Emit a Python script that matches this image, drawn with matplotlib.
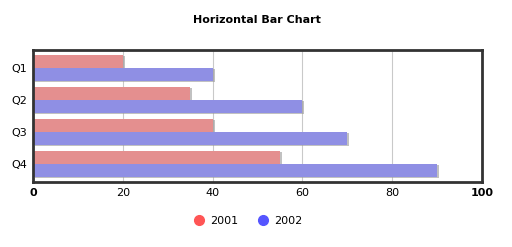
import numpy as np
import matplotlib
matplotlib.use("Agg")
import matplotlib.pyplot as plt
import matplotlib.ticker as ticker
from matplotlib.lines import Line2D
import matplotlib.patheffects as pe

quarters = ["Q1", "Q2", "Q3", "Q4"]
years = ["2001", "2002"]
vals_2001 = [20, 35, 40, 55]
vals_2002 = [40, 60, 70, 90]
xticks = [0, 20, 40, 60, 80, 100]

bar_colors = ["#e48f8f", "#8f8fe4"]
dot_colors = ["#ff5555", "#5555ff"]

fig = plt.figure(figsize=(5.12, 2.47), dpi=100)
ax = fig.add_axes([33 / 512, 65 / 247, 449 / 512, 132 / 247])

y = np.arange(len(quarters))
h = 0.41
shadow = [pe.SimplePatchShadow(offset=(1.5, -0.7), shadow_rgbFace="#999999", alpha=0.6), pe.Normal()]
for i, (vals, c) in enumerate(zip([vals_2001, vals_2002], bar_colors)):
    ax.barh(y - h / 2 + i * h, vals, height=h, color=c, zorder=2, path_effects=shadow)

ax.set_xlim(0, 100)
ax.set_ylim(3.58, -0.58)
ax.set_yticks(y)
ax.set_yticklabels(quarters, fontsize=8)
ax.set_xticks(xticks)
ax.set_xticklabels([str(t) for t in xticks], fontsize=8)
for lbl in (ax.get_xticklabels()[0], ax.get_xticklabels()[-1]):
    lbl.set_fontweight("bold")
ax.tick_params(length=0, pad=4)
ax.grid(axis="x", color="#666666", alpha=0.35, linewidth=0.8, zorder=3)
for s in ax.spines.values():
    s.set_color("#333333")
    s.set_linewidth(2)

fig.text(257 / 512, 1 - 20 / 247, "Horizontal Bar Chart", ha="center", va="center",
         fontsize=8, fontweight="bold")

handles = [Line2D([], [], marker="o", linestyle="none", color=c, markersize=7) for c in dot_colors]
fig.legend(handles, years, loc="center", bbox_to_anchor=(245 / 512, 1 - 221 / 247), ncol=2,
           frameon=False, fontsize=8, handletextpad=0.0, columnspacing=1.2)

fig.savefig("out.png", dpi=100)
